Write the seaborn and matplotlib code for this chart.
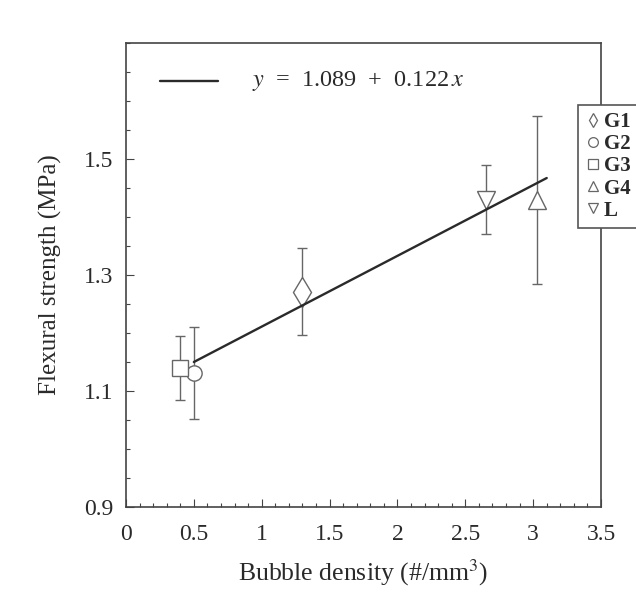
import numpy as np
import pandas as pd
import matplotlib
matplotlib.use('Agg')
import matplotlib.pyplot as plt
from matplotlib.lines import Line2D
from matplotlib.ticker import MultipleLocator
import seaborn as sns

# data
groups = ['G1', 'G2', 'G3', 'G4', 'L']
density = [1.30, 0.50, 0.40, 3.03, 2.65]
strength = [1.271, 1.131, 1.140, 1.430, 1.430]
err = [0.075, 0.080, 0.055, 0.145, 0.060]
markers = {'G1': 'd', 'G2': 'o', 'G3': 's', 'G4': '^', 'L': 'v'}
marker_sizes = {'G1': 15, 'G2': 11, 'G3': 11.5, 'G4': 13, 'L': 13}

# fitted line y = 1.089 + 0.122 x
fit_intercept = 1.089
fit_slope = 0.122
fit_range = [0.5, 3.1]

sns.set_style('ticks')
plt.rcParams['font.family'] = ['Liberation Serif', 'DejaVu Serif']
plt.rcParams['mathtext.fontset'] = 'stix'

df = pd.DataFrame({'group': groups, 'density': density,
                   'strength': strength, 'err': err})
fit = pd.DataFrame({'density': fit_range})
fit['strength'] = fit_intercept + fit_slope * fit['density']

fig = plt.figure(figsize=(6.36, 5.96), dpi=100)
ax = fig.add_axes([126 / 636, 1 - 507 / 596, 475 / 636, 464 / 596])

grey = '#666666'
txt = '#2a2a2a'
ax.errorbar(df['density'], df['strength'], yerr=df['err'], fmt='none',
            ecolor=grey, elinewidth=1.0, capsize=3.5, capthick=1.0, zorder=1)
for _, row in df.iterrows():
    ax.plot(row['density'], row['strength'], linestyle='none',
            marker=markers[row['group']], markersize=marker_sizes[row['group']],
            markerfacecolor='white', markeredgecolor=grey,
            markeredgewidth=1.0, zorder=2)
sns.lineplot(data=fit, x='density', y='strength', color='#2a2a2a',
             linewidth=1.7, ax=ax, zorder=3)

ax.set_xlim(0, 3.5)
ax.set_ylim(0.9, 1.7)
ax.set_xticks([0, 0.5, 1, 1.5, 2, 2.5, 3, 3.5])
ax.set_xticklabels(['0', '0.5', '1', '1.5', '2', '2.5', '3', '3.5'])
ax.set_yticks([0.9, 1.1, 1.3, 1.5])
ax.set_yticklabels(['0.9', '1.1', '1.3', '1.5'])
ax.xaxis.set_minor_locator(MultipleLocator(0.1))
ax.yaxis.set_minor_locator(MultipleLocator(0.05))
ax.tick_params(which='both', direction='in', colors='#444444',
               labelcolor=txt, labelsize=17, width=0.8)
ax.tick_params(which='major', length=6)
ax.tick_params(which='minor', length=3)
ax.tick_params(axis='x', pad=12)
ax.tick_params(axis='y', pad=9)
for s in ax.spines.values():
    s.set_color('#444444')
    s.set_linewidth(1.2)

ax.set_xlabel('Bubble density (#/mm$^3$)', fontsize=18.5, color=txt,
              labelpad=9)
ax.set_ylabel('Flexural strength (MPa)', fontsize=18, color=txt,
              labelpad=16)

# equation legend at top left
ax.plot([0.25, 0.68], [1.635, 1.635], color='#2a2a2a', linewidth=1.7)
ax.text(0.93, 1.635, r'$y$  =  1.089  +  0.122$\,x$', fontsize=17.5,
        color=txt, va='center', ha='left')

handles = [Line2D([], [], linestyle='none', marker=markers[g],
                  markersize=7, markerfacecolor='white',
                  markeredgecolor=grey, markeredgewidth=0.9) for g in groups]
leg = fig.legend(handles, groups, loc='upper left',
                 bbox_to_anchor=(578 / 636, 1 - 105 / 596),
                 frameon=True, fancybox=False, framealpha=1,
                 edgecolor='#555555', borderpad=0.35, handlelength=0.7,
                 handletextpad=0.2, labelspacing=0.1, borderaxespad=0,
                 prop={'family': 'Liberation Serif', 'weight': 'bold',
                       'size': 15})
leg.get_frame().set_linewidth(1.2)
for t in leg.get_texts():
    t.set_color(txt)

fig.savefig('out.png', dpi=100, facecolor='white')
